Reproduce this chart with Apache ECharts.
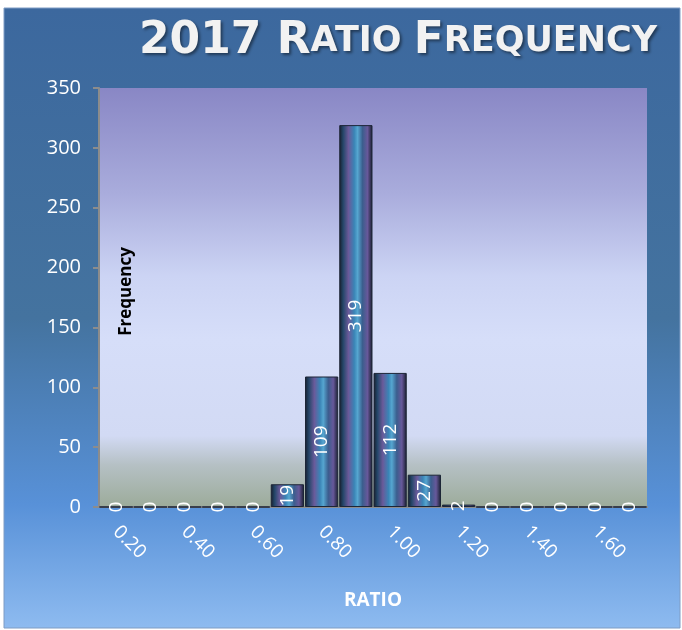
<!DOCTYPE html>
<html>
<head>
<meta charset="utf-8">
<script src="https://cdn.jsdelivr.net/npm/echarts@6/dist/echarts.min.js"></script>
<style>
  html, body { margin: 0; padding: 0; background: #fff; }
  #chart { width: 682px; height: 630px; }
</style>
</head>
<body>
<div id="chart"></div>
<script>
const ratios = ["0.20", "0.30", "0.40", "0.50", "0.60", "0.70", "0.80", "0.90",
  "1.00", "1.10", "1.20", "1.30", "1.40", "1.50", "1.60", "1.70"];
const frequency = [0, 0, 0, 0, 0, 19, 109, 319, 112, 27, 2, 0, 0, 0, 0, 0];
const yTicks = { min: 0, max: 350, interval: 50 };

const chart = echarts.init(document.getElementById("chart"));

const barColor = new echarts.graphic.LinearGradient(0, 0, 1, 0, [
  { offset: 0, color: "#161d2c" },
  { offset: 0.12, color: "#25476a" },
  { offset: 0.28, color: "#6a5a9a" },
  { offset: 0.45, color: "#3a84b6" },
  { offset: 0.55, color: "#56a6d0" },
  { offset: 0.7, color: "#3b5e8e" },
  { offset: 0.85, color: "#67589a" },
  { offset: 1, color: "#161d2c" }
]);

const titleStyle = (size) => ({
  fontFamily: "DejaVu Sans",
  fontWeight: "bold",
  fontSize: size,
  color: "#f2f2f2",
  textShadowColor: "rgba(0,0,0,0.45)",
  textShadowBlur: 3,
  textShadowOffsetX: 2,
  textShadowOffsetY: 2
});

chart.setOption({
  backgroundColor: "#ffffff",
  graphic: [
    {
      type: "rect",
      z: -10,
      shape: { x: 4, y: 8, width: 676, height: 620 },
      style: {
        fill: new echarts.graphic.LinearGradient(0, 0, 0, 1, [
          { offset: 0, color: "#3c689e" },
          { offset: 0.5, color: "#44739f" },
          { offset: 0.8, color: "#5891d8" },
          { offset: 1, color: "#8ebbf0" }
        ]),
        stroke: "#7f9cc4",
        lineWidth: 1
      }
    }
  ],
  title: {
    text: "{b|2017 R}{s|ATIO }{b|F}{s|REQUENCY}",
    left: 393,
    top: 15,
    textAlign: "center",
    textStyle: {
      rich: { b: titleStyle(44), s: titleStyle(35) }
    }
  },
  grid: {
    left: 99,
    right: 35,
    top: 88,
    bottom: 123,
    show: true,
    borderWidth: 0,
    backgroundColor: new echarts.graphic.LinearGradient(0, 0, 0, 1, [
      { offset: 0, color: "#8987c5" },
      { offset: 0.25, color: "#a9acdc" },
      { offset: 0.45, color: "#ccd4f4" },
      { offset: 0.6, color: "#d6def9" },
      { offset: 0.83, color: "#d2daf4" },
      { offset: 0.9, color: "#b5c0c4" },
      { offset: 1, color: "#9cab9a" }
    ])
  },
  xAxis: {
    type: "category",
    data: ratios,
    name: "RATIO",
    nameLocation: "middle",
    nameGap: 84,
    nameTextStyle: {
      color: "#ffffff",
      fontFamily: "Open Sans",
      fontWeight: "bold",
      fontSize: 19
    },
    axisLine: { lineStyle: { color: "#8c8c8c", width: 2 } },
    axisTick: { interval: 0, length: 6, lineStyle: { color: "#8c8c8c", width: 2 } },
    axisLabel: {
      interval: 1,
      rotate: -45,
      margin: 22,
      color: "#ffffff",
      fontFamily: "Open Sans",
      fontSize: 19
    }
  },
  yAxis: {
    type: "value",
    min: yTicks.min,
    max: yTicks.max,
    interval: yTicks.interval,
    name: "Frequency",
    nameLocation: "middle",
    nameRotate: 90,
    nameGap: -36,
    nameTextStyle: {
      color: "#000000",
      fontFamily: "Open Sans",
      fontWeight: "bold",
      fontSize: 17,
      padding: [0, 0, 0, 12]
    },
    axisLine: { show: true, lineStyle: { color: "#8c8c8c", width: 2 } },
    axisTick: { show: true, length: 6, lineStyle: { color: "#8c8c8c", width: 2 } },
    splitLine: { show: false },
    axisLabel: {
      color: "#ffffff",
      fontFamily: "Open Sans",
      fontSize: 20,
      margin: 18
    }
  },
  series: [
    {
      type: "bar",
      data: frequency,
      barCategoryGap: "3%",
      itemStyle: {
        color: barColor,
        borderColor: "#1c2536",
        borderWidth: 1
      },
      label: {
        show: true,
        position: "inside",
        rotate: 90,
        color: "#ffffff",
        fontFamily: "Open Sans",
        fontSize: 19
      }
    }
  ]
});
</script>
</body>
</html>
